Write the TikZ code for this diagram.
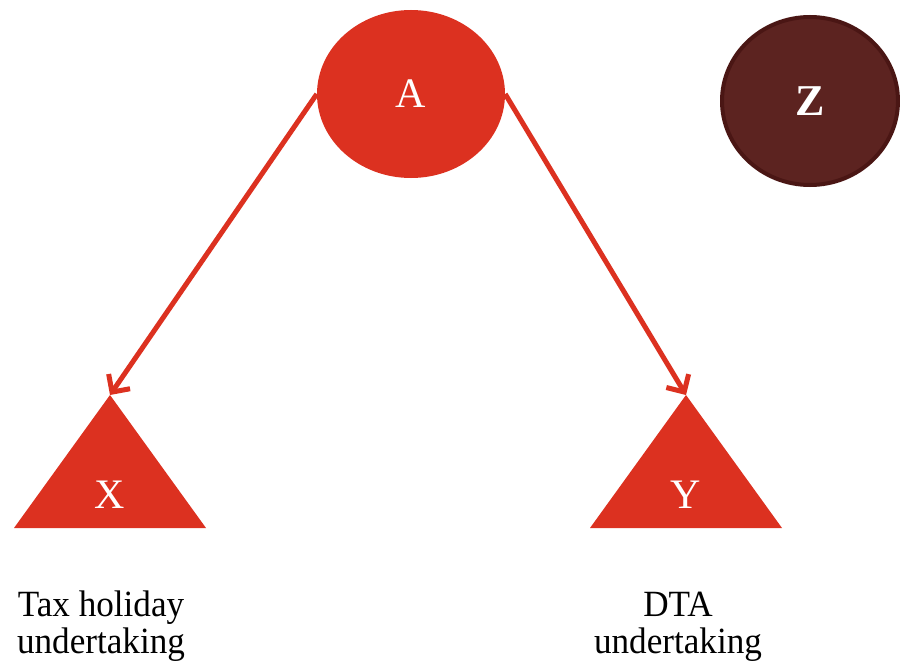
\documentclass[tikz,border=0pt]{standalone}
\usepackage{fontspec}
\setmainfont{Liberation Serif}
\usetikzlibrary{shapes.geometric,arrows.meta}
\definecolor{redA}{HTML}{DC3120}
\definecolor{brownZ}{HTML}{5C2320}
\definecolor{brownZb}{HTML}{4A1614}
\tikzset{
  bubble/.style={ellipse, inner sep=0pt, text=white, font=\fontsize{42}{42}\selectfont},
  tri/.style={fill=redA},
  trilabel/.style={text=white, font=\fontsize{42}{42}\selectfont, inner sep=0pt},
  link/.style={draw=redA, line width=5pt, -{Straight Barb[length=13pt,width=26pt,line width=5pt]}},
  caption/.style={align=center, font=\fontsize{37}{37}\selectfont, inner sep=0pt}
}
\begin{document}
\begin{tikzpicture}[x=1pt,y=-1pt]
\useasboundingbox (0,0) rectangle (900,661);
\node[bubble, fill=redA, minimum width=188pt, minimum height=168pt] (A) at (411,94) {A};
\node[bubble, fill=brownZ, draw=brownZb, line width=4pt, minimum width=176pt, minimum height=168pt, font=\fontsize{44}{44}\selectfont\bfseries] (Z) at (810,101) {Z};
\coordinate (Xtop) at (110,395);
\coordinate (Ytop) at (686,395);
\fill[tri] (Xtop) -- (206,528) -- (14,528) -- cycle;
\fill[tri] (Ytop) -- (782,528) -- (590,528) -- cycle;
\node[trilabel, anchor=base] (X) at (110,508) {X};
\node[trilabel, anchor=base] (Y) at (686,508) {Y};
\draw[link] (A.west) -- (Xtop);
\draw[link] (A.east) -- (Ytop);
\node[caption, anchor=base] (capX) at (101,653) {\scalebox{0.95}[1]{Tax holiday}\\\scalebox{0.95}[1]{undertaking}};
\node[caption, anchor=base] (capY) at (678,653) {\scalebox{0.95}[1]{DTA}\\\scalebox{0.95}[1]{undertaking}};
\end{tikzpicture}
\end{document}
